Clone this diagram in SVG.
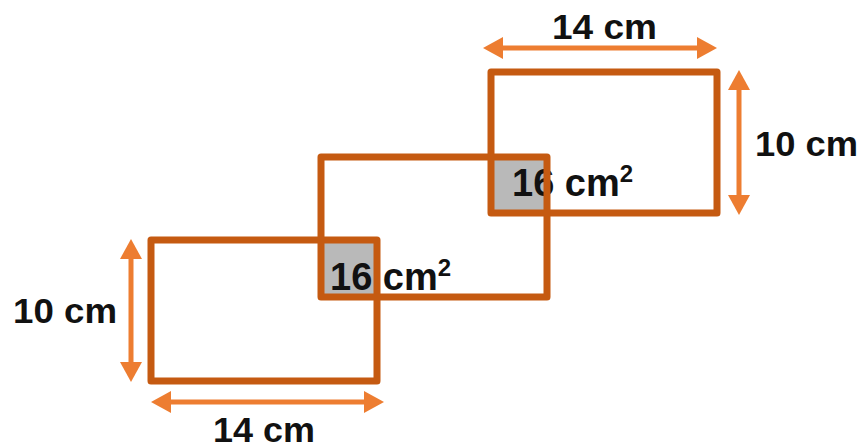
<svg xmlns="http://www.w3.org/2000/svg" width="864" height="448" viewBox="0 0 864 448">
  <style>
    .frame { fill: none; stroke: #C55A11; stroke-width: 7; stroke-linejoin: round; }
    .overlap { fill: #B9B9B9; stroke: none; }
    .dim { stroke: #ED7D31; stroke-width: 5; fill: none; marker-start: url(#ah); marker-end: url(#ah); }
    .lbl { font-family: "Liberation Sans", Arial, sans-serif; font-weight: bold; font-size: 35px; fill: #111; }
    .area { font-family: "Liberation Sans", Arial, sans-serif; font-weight: bold; font-size: 38px; fill: #111; }
  </style>
  <defs>
    <marker id="ah" viewBox="0 0 20 22" refX="10" refY="11" markerWidth="20" markerHeight="22" markerUnits="userSpaceOnUse" orient="auto-start-reverse">
      <path d="M0,0 L20,11 L0,22 z" fill="#ED7D31"/>
    </marker>
  </defs>

  <g id="overlaps">
    <rect class="overlap" x="321" y="240" width="56" height="57"/>
    <rect class="overlap" x="491" y="157" width="56" height="56"/>
  </g>

  <g id="area-labels">
    <text class="area" x="330" y="290">16 cm<tspan font-size="24" dy="-14">2</tspan></text>
    <text class="area" x="512" y="196">16 cm<tspan font-size="24" dy="-14">2</tspan></text>
  </g>

  <g id="rect-bottom">
    <rect class="frame" x="151" y="240" width="226" height="141"/>
  </g>
  <g id="rect-middle">
    <rect class="frame" x="321" y="157" width="226" height="140"/>
  </g>
  <g id="rect-top">
    <rect class="frame" x="491" y="72" width="226" height="141"/>
  </g>

  <g id="dimensions">
    <line class="dim" x1="493" y1="48" x2="707" y2="48"/>
    <line class="dim" x1="739" y1="80" x2="739" y2="205"/>
    <line class="dim" x1="131" y1="249" x2="131" y2="372"/>
    <line class="dim" x1="161" y1="402" x2="374" y2="402"/>
  </g>

  <g id="dimension-labels">
    <text class="lbl" x="552" y="39" textLength="105" lengthAdjust="spacingAndGlyphs">14 cm</text>
    <text class="lbl" x="755" y="156" textLength="103" lengthAdjust="spacingAndGlyphs">10 cm</text>
    <text class="lbl" x="13" y="323" textLength="104" lengthAdjust="spacingAndGlyphs">10 cm</text>
    <text class="lbl" x="213" y="442" textLength="102" lengthAdjust="spacingAndGlyphs">14 cm</text>
  </g>
</svg>
